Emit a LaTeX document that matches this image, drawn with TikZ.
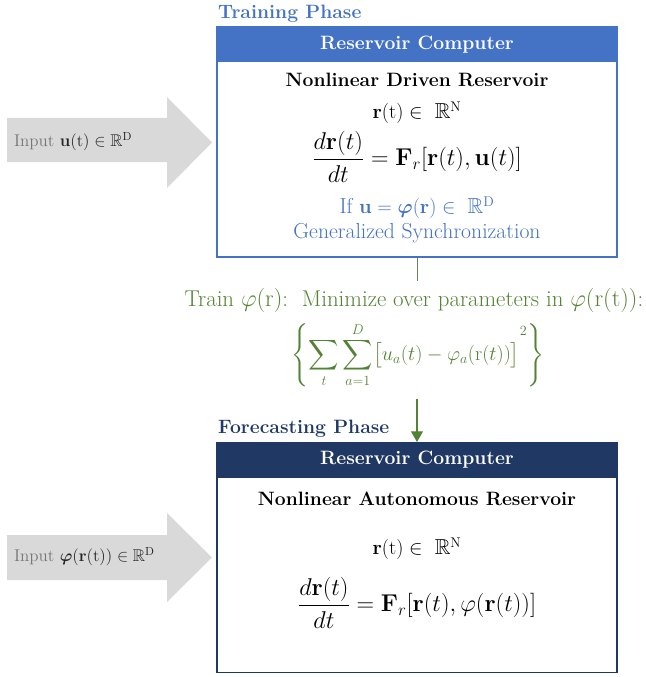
\documentclass[tikz,border=0pt]{standalone}
\usepackage{amsmath,amssymb}
\usetikzlibrary{positioning,arrows.meta}

\definecolor{trainblue}{RGB}{68,114,196}
\definecolor{forenavy}{RGB}{31,56,100}
\definecolor{fitgreen}{RGB}{84,130,53}
\definecolor{arrowgray}{RGB}{217,217,217}
\definecolor{inputgray}{RGB}{118,118,118}

\begin{document}
\begin{tikzpicture}[x=0.03cm, y=-0.03cm,
    every node/.style={font=\fontsize{18.5}{21}\selectfont},
    phase/.style={anchor=base west, inner sep=0pt, font=\fontsize{16.5}{19}\selectfont\bfseries},
    rcbox/.style={draw, line width=0.9pt, minimum width=12cm, minimum height=6.9cm, inner sep=0pt},
    rchead/.style={anchor=north, fill, minimum width=12cm, minimum height=1.06cm, inner sep=0pt,
        text=white, font=\fontsize{16.5}{19}\selectfont\bfseries},
    title/.style={font=\fontsize{16.5}{19}\selectfont\bfseries},
    eqn/.style={font=\fontsize{19.5}{22}\selectfont},
    inarrow/.style={fill=arrowgray},
    intext/.style={anchor=west, text=black!85, font=\fontsize{14.5}{17}\selectfont}]
    \useasboundingbox (0,0) rectangle (645,677);

    % Input arrows
    \fill[inarrow] (7,118) -- (167,118) -- (167,97) -- (212,142.5) -- (167,188) -- (167,162) -- (7,162) -- cycle;
    \fill[inarrow] (7,535) -- (167,535) -- (167,513) -- (212,557.5) -- (167,602) -- (167,580) -- (7,580) -- cycle;
    \node[intext] (inU) at (10,142) {{\color{inputgray}Input} $\mathbf{u}(\mathrm{t}) \in \mathbb{R}^{\mathrm{D}}$};
    \node[intext] (inPhi) at (10,557) {{\color{inputgray}Input} $\boldsymbol{\varphi}(\mathbf{r}(\mathrm{t})) \in \mathbb{R}^{\mathrm{D}}$};

    % Training phase
    \node[phase, text=trainblue] (trainlbl) at (218,19) {Training Phase};
    \node[rcbox, draw=trainblue] (train) at (417,142) {};
    \node[rchead, fill=trainblue] (trainhead) at (train.north) {Reservoir Computer};
    \node[title] (drivenlbl) at (417,80) {Nonlinear Driven Reservoir};
    \node (drivenstate) at (417,113) {$\mathbf{r}(\mathrm{t}) \in\ \mathbb{R}^{\mathrm{N}}$};
    \node[eqn] (driveneq) at (417,157) {$\displaystyle \frac{d\mathbf{r}(t)}{dt} = \mathbf{F}_r[\mathbf{r}(t),\mathbf{u}(t)]$};
    \node[text=trainblue] (synccond) at (417,208) {If $\mathbf{u} = \boldsymbol{\varphi}(\mathbf{r}) \in\ \mathbb{R}^{\mathrm{D}}$};
    \node[text=trainblue] (synclbl) at (417,233) {Generalized Synchronization};

    % Fitting the readout
    \node[text=fitgreen, inner sep=1pt, font=\fontsize{19.5}{22}\selectfont] (fitlbl) at (414,300)
        {Train $\varphi(\mathrm{r})$:\ \ Minimize over parameters in $\varphi(\mathrm{r(t)})$:};
    \node[text=fitgreen, inner sep=0pt, font=\fontsize{18}{21}\selectfont] (fitloss) at (418,355)
        {$\displaystyle \left\{\sum_{t}\sum_{a=1}^{D}\bigl[u_a(t)-\varphi_a(\mathrm{r}(t))\bigr]^{\raisebox{1.4ex}{$\scriptstyle 2$}}\right\}$};

    % Forecasting phase
    \node[phase, text=forenavy] (forelbl) at (218,433) {Forecasting Phase};
    \node[rcbox, draw=forenavy] (fore) at (417,557.5) {};
    \node[rchead, fill=forenavy] (forehead) at (fore.north) {Reservoir Computer};
    \node[title] (autolbl) at (417,499) {Nonlinear Autonomous Reservoir};
    \node (autostate) at (417,549) {$\mathbf{r}(\mathrm{t}) \in\ \mathbb{R}^{\mathrm{N}}$};
    \node[eqn] (autoeq) at (417,603) {$\displaystyle \frac{d\mathbf{r}(t)}{dt} = \mathbf{F}_r[\mathbf{r}(t),\varphi(\mathbf{r}(t))]$};

    % Connectors
    \draw[fitgreen!55!gray, line width=0.8pt, shorten >=5pt] (train.south) -- (train.south |- fitlbl.north);
    \draw[fitgreen, line width=0.9pt, -{Triangle[length=3.2mm, width=3.6mm]}, shorten <=10pt]
        (fore.north |- fitloss.south) -- (fore.north);
\end{tikzpicture}
\end{document}
